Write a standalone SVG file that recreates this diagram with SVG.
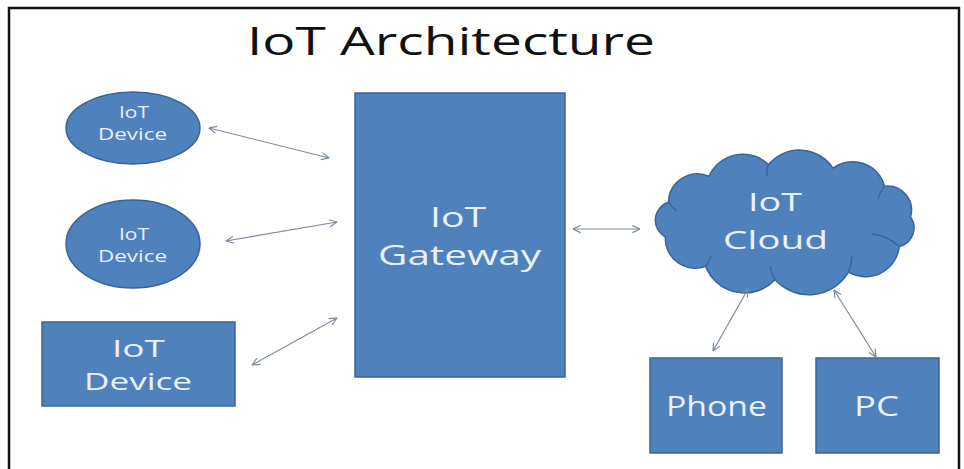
<svg xmlns="http://www.w3.org/2000/svg" width="964" height="469" viewBox="0 0 964 469">
<defs>
<style>
.shape{fill:#4f81bd;stroke:#3a6496;stroke-width:1.5}
.lbl{font-family:"Open Sans","Liberation Sans",sans-serif;fill:#e9f1fa;text-anchor:middle}
.inner{fill:none;stroke:#3a6496;stroke-width:1.3}
.conn{stroke:#7d8b9c;stroke-width:1.2;fill:none;marker-start:url(#ah);marker-end:url(#ah)}
</style>
<marker id="ah" viewBox="0 0 10 10" refX="9.5" refY="5" markerWidth="9" markerHeight="9" markerUnits="userSpaceOnUse" orient="auto-start-reverse">
<path d="M1,1 L9.5,5 L1,9" fill="none" stroke="#7d8b9c" stroke-width="1.3"/>
</marker>
</defs>
<rect width="964" height="469" fill="#ffffff"/>
<rect x="9" y="8" width="950" height="475" fill="none" stroke="#111" stroke-width="2.5"/>
<text x="451" y="55" font-family="'Open Sans','Liberation Sans',sans-serif" font-size="39" fill="#111" text-anchor="middle" textLength="408" lengthAdjust="spacingAndGlyphs">IoT Architecture</text>

<g id="device1">
<ellipse class="shape" cx="133" cy="128" rx="67" ry="36"/>
<text class="lbl" x="134" y="118" font-size="16" textLength="30" lengthAdjust="spacingAndGlyphs">IoT</text>
<text class="lbl" x="132.5" y="140" font-size="16" textLength="69" lengthAdjust="spacingAndGlyphs">Device</text>
</g>
<g id="device2">
<ellipse class="shape" cx="133" cy="244" rx="67" ry="44"/>
<text class="lbl" x="134" y="240" font-size="16" textLength="30" lengthAdjust="spacingAndGlyphs">IoT</text>
<text class="lbl" x="132.5" y="262" font-size="16" textLength="69" lengthAdjust="spacingAndGlyphs">Device</text>
</g>
<g id="device3">
<rect class="shape" x="42" y="322" width="193" height="84"/>
<text class="lbl" x="138.5" y="357" font-size="24" textLength="53" lengthAdjust="spacingAndGlyphs">IoT</text>
<text class="lbl" x="138" y="390" font-size="24" textLength="108" lengthAdjust="spacingAndGlyphs">Device</text>
</g>
<g id="gateway">
<rect class="shape" x="355" y="93" width="210" height="284"/>
<text class="lbl" x="458" y="227" font-size="27" textLength="56" lengthAdjust="spacingAndGlyphs">IoT</text>
<text class="lbl" x="459.5" y="265" font-size="27" textLength="163" lengthAdjust="spacingAndGlyphs">Gateway</text>
</g>
<g id="cloud">
<path class="shape" d="M665.3,237 A19,19 0 0 1 668.5,202.2 A29,29 0 0 1 709,176.3 A37,37 0 0 1 768.6,164.6 A40,40 0 0 1 832.9,168.2 A33,33 0 0 1 884.5,186.3 A24,24 0 0 1 910.5,217 A19,19 0 0 1 899.3,246.5 A34,34 0 0 1 848.5,272.2 A46,46 0 0 1 775.1,279.8 A42,42 0 0 1 705.6,266.4 A30,30 0 0 1 665.3,237 Z"/>
<path class="inner" d="M668.5,202.2 Q672,208 677,211"/>
<path class="inner" d="M768.6,164.6 Q766,170 767,176"/>
<path class="inner" d="M884.5,186.3 Q880,192 878,199"/>
<path class="inner" d="M899.3,246.5 Q888,236 872,234"/>
<path class="inner" d="M848.5,272.2 Q852,264 852,256"/>
<path class="inner" d="M775.1,279.8 Q771,273 770,266"/>
<path class="inner" d="M705.6,266.4 Q709,262 711,256"/>
<text class="lbl" x="775" y="211" font-size="25" textLength="54" lengthAdjust="spacingAndGlyphs">IoT</text>
<text class="lbl" x="775.5" y="249" font-size="26" textLength="105" lengthAdjust="spacingAndGlyphs">Cloud</text>
</g>
<g id="phone">
<rect class="shape" x="650" y="358" width="132" height="95"/>
<text class="lbl" x="716.5" y="416" font-size="26.5" textLength="101" lengthAdjust="spacingAndGlyphs">Phone</text>
</g>
<g id="pc">
<rect class="shape" x="816" y="358" width="123" height="95"/>
<text class="lbl" x="876.5" y="416" font-size="26.5" textLength="45" lengthAdjust="spacingAndGlyphs">PC</text>
</g>

<g id="connectors">
<line class="conn" x1="209" y1="128" x2="329" y2="158"/>
<line class="conn" x1="226" y1="241" x2="337" y2="222"/>
<line class="conn" x1="252" y1="365" x2="337" y2="318"/>
<line class="conn" x1="573" y1="229" x2="640" y2="229"/>
<line class="conn" x1="748" y1="289" x2="713" y2="351"/>
<line class="conn" x1="834" y1="290" x2="876" y2="357"/>
</g>
</svg>
